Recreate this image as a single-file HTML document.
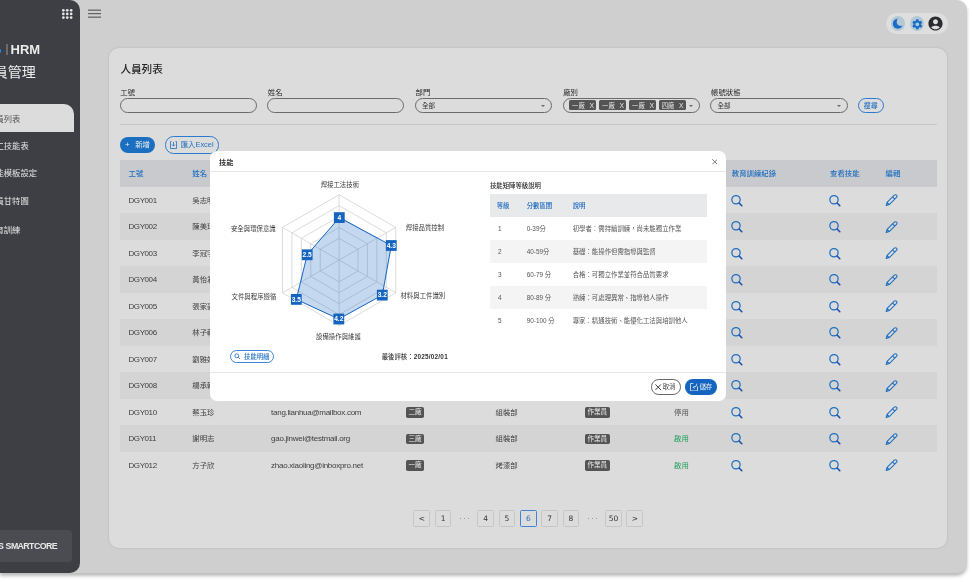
<!DOCTYPE html>
<html lang="zh-Hant">
<head>
<meta charset="utf-8">
<title>人員列表</title>
<style>
*{box-sizing:border-box;margin:0;padding:0}
html,body{width:972px;height:582px;overflow:hidden;background:#fff}
body{position:relative;font-family:"Liberation Sans","Noto Sans CJK TC",sans-serif;color:#333}
.abs{position:absolute}
.app{position:absolute;left:0;top:0;width:967px;height:572.6px;background:#cfcfcf;border-radius:0 10px 10px 0;box-shadow:0 2.5px 3.5px rgba(0,0,0,.27)}
.side{position:absolute;left:0;top:0;width:80px;height:573px;background:#3e3f44;border-radius:0 10px 10px 0;overflow:hidden}
.side .item{position:absolute;left:-12.8px;font-size:8.3px;line-height:10px;color:#e4e4e4;white-space:nowrap}
.card{position:absolute;left:109px;top:48px;width:838.3px;height:500px;background:#dcdcdc;border-radius:10px;box-shadow:0 0 2.5px rgba(0,0,0,.13)}
.lbl{position:absolute;top:88.2px;font-size:7.4px;line-height:9px;color:#262626;white-space:nowrap}
.inp{position:absolute;top:97.8px;height:15.2px;width:137.2px;border:1px solid #6a6a6a;border-radius:8px}
.inp .v{position:absolute;left:6px;top:3.3px;font-size:6.6px;line-height:8px;color:#333}
.arrow{position:absolute;right:6px;top:6px;width:0;height:0;border-left:2px solid transparent;border-right:2px solid transparent;border-top:2.2px solid #666}
.fchip{position:absolute;top:100.3px;width:27.5px;height:10.2px;background:#545454;color:#e6e6e6;font-size:6.3px;line-height:12px;padding-left:3.2px;border-radius:1.5px;white-space:nowrap}
.fchip b{position:absolute;left:20.5px;top:0;font-weight:normal;font-size:6.8px}
.tbl{position:absolute;left:120px;top:160.4px;width:816.6px}
.tr{position:absolute;left:0;width:816.6px;height:26.5px}
.tr.h{background:#c9cacd;height:26.3px}
.tr.alt{background:#d4d4d4}
.td{position:absolute;top:0.9px;line-height:26.5px;font-size:7.4px;color:#404040;white-space:nowrap}
.td.l{font-size:8px;letter-spacing:-0.27px}
.h .td{color:#1f6fc0;line-height:26.3px;font-weight:500}
.chip{display:inline-block;background:#545454;color:#eee;border-radius:1.8px;font-size:6.6px;line-height:10.2px;height:10.2px;padding:0 2.4px;vertical-align:middle;position:relative;top:-0.4px}
.ic svg{vertical-align:middle}
.pg{position:absolute;top:510.1px;width:16.8px;height:16.6px;border:1px solid #c6c6c6;border-radius:1.5px;font-family:"DejaVu Sans",sans-serif;font-size:7.5px;line-height:14.6px;padding-top:1.4px;text-align:center;color:#333}
.dots{position:absolute;top:517.6px;width:1.3px;height:1.3px;border-radius:50%;background:#8a8a8a}
.modal{position:absolute;left:210.2px;top:151px;width:515.7px;height:250px;background:#fff;border-radius:7px;overflow:hidden}
.mt{position:absolute;font-size:6.4px;line-height:8px;color:#444;white-space:nowrap}
</style>
</head>
<body>
<div class="app">
  <div class="side">
    <svg class="abs" style="left:62px;top:9px" width="11" height="10" viewBox="0 0 11 10"><g fill="#e6e6e6"><circle cx="1.35" cy="1.35" r="1.35"/><circle cx="5.25" cy="1.35" r="1.35"/><circle cx="9.15" cy="1.35" r="1.35"/><circle cx="1.35" cy="4.95" r="1.35"/><circle cx="5.25" cy="4.95" r="1.35"/><circle cx="9.15" cy="4.95" r="1.35"/><circle cx="1.35" cy="8.55" r="1.35"/><circle cx="5.25" cy="8.55" r="1.35"/><circle cx="9.15" cy="8.55" r="1.35"/></g></svg>
    <div class="abs" style="left:-1px;top:49.3px;width:2.4px;height:4.2px;background:#1e88e5;border-radius:1px"></div>
    <div class="abs" style="left:6.3px;top:44.2px;width:1.3px;height:10.6px;background:#6a6b70"></div>
    <div class="abs" style="left:10.6px;top:41.5px;font-size:13px;line-height:15px;font-weight:bold;color:#ececec">HRM</div>
    <div class="abs" style="left:-20.2px;top:64.2px;font-size:14px;line-height:17px;color:#ececec;white-space:nowrap">人員管理</div>
    <div class="abs" style="left:-10px;top:103.5px;width:84px;height:28.6px;background:#dcdcdc;border-radius:0 10px 0 0"></div>
    <div class="item" style="top:113.5px;color:#555">人員列表</div>
    <div class="item" style="top:140.8px">員工技能表</div>
    <div class="item" style="top:168px">技能模板設定</div>
    <div class="item" style="top:196px">人員甘特圖</div>
    <div class="item" style="top:224.5px">教育訓練</div>
    <div class="abs" style="left:-10px;top:530.1px;width:82.2px;height:32px;background:#4b4c51;border-radius:4px"></div>
    <div class="abs" style="left:-2.1px;top:540.6px;font-size:8.8px;line-height:10px;font-weight:bold;letter-spacing:-0.6px;word-spacing:0.6px;color:#e8e8e8;white-space:nowrap">S SMARTCORE</div>
  </div>
</div>
<div class="card"></div>

<svg class="abs" style="left:88px;top:9px" width="14" height="9" viewBox="0 0 14 9"><g fill="#555"><rect x="0" y="0.6" width="13" height="1.1"/><rect x="0" y="4.1" width="13" height="1.1"/><rect x="0" y="7.6" width="13" height="1.1"/></g></svg>
<div class="abs" style="left:885.8px;top:12.9px;width:62px;height:21.6px;background:#dedede;border-radius:11px"></div>
<div class="abs" style="left:890.8px;top:16.3px;width:14.5px;height:14.5px;background:#b3c9d6;border-radius:50%"></div>
<svg class="abs" style="left:890.8px;top:16.3px" width="14.5" height="14.5" viewBox="890.8 16.3 14.5 14.5"><defs><mask id="mm"><rect x="890" y="16" width="16" height="16" fill="#fff"/><circle cx="900.6" cy="22.1" r="4.1" fill="#000"/></mask></defs><circle cx="897.6" cy="24" r="5" fill="#1a6cc7" mask="url(#mm)"/></svg>
<div class="abs" style="left:909.9px;top:16.3px;width:14.3px;height:14.3px;background:#b3c9d6;border-radius:50%"></div>
<svg class="abs" style="left:910.7px;top:17.5px" width="12.6" height="12.6" viewBox="0 0 24 24"><path fill="#1a6cc7" d="M19.14 12.94c.04-.3.06-.61.06-.94 0-.32-.02-.64-.07-.94l2.03-1.58c.18-.14.23-.41.12-.61l-1.92-3.32c-.12-.22-.37-.29-.59-.22l-2.39.96c-.5-.38-1.03-.7-1.62-.94l-.36-2.54c-.04-.24-.24-.41-.48-.41h-3.84c-.24 0-.43.17-.47.41l-.36 2.54c-.59.24-1.13.57-1.62.94l-2.39-.96c-.22-.08-.47 0-.59.22L2.74 8.87c-.12.21-.08.47.12.61l2.03 1.58c-.05.3-.09.63-.09.94s.02.64.07.94l-2.03 1.58c-.18.14-.23.41-.12.61l1.92 3.32c.12.22.37.29.59.22l2.39-.96c.5.38 1.03.7 1.62.94l.36 2.54c.05.24.24.41.48.41h3.84c.24 0 .44-.17.47-.41l.36-2.54c.59-.24 1.13-.56 1.62-.94l2.39.96c.22.08.47 0 .59-.22l1.92-3.32c.12-.22.07-.47-.12-.61l-2.01-1.58zM12 15.6c-1.98 0-3.6-1.62-3.6-3.6s1.62-3.6 3.6-3.6 3.6 1.62 3.6 3.6-1.62 3.6-3.6 3.6z"/></svg>
<svg class="abs" style="left:927.2px;top:15.3px" width="17" height="17" viewBox="0 0 24 24"><path fill="#2a2b2f" d="M12 2C6.48 2 2 6.48 2 12s4.48 10 10 10 10-4.48 10-10S17.52 2 12 2zm0 4c1.93 0 3.5 1.57 3.5 3.5S13.930 13 12 13s-3.5-1.57-3.5-3.5S10.07 6 12 6zm0 14c-2.03 0-4.43-.82-6.14-2.88C7.55 15.8 9.68 15 12 15s4.45.8 6.14 2.12C16.43 19.18 14.03 20 12 20z"/></svg>


<div class="abs" style="left:120.4px;top:62.2px;font-size:10.6px;line-height:14px;font-weight:500;color:#222">人員列表</div>
<div class="lbl" style="left:120.3px">工號</div>
<div class="lbl" style="left:267.8px">姓名</div>
<div class="lbl" style="left:415.6px">部門</div>
<div class="lbl" style="left:563.2px">廠別</div>
<div class="lbl" style="left:711px">帳號狀態</div>
<div class="inp" style="left:119.5px"></div>
<div class="inp" style="left:267.2px"></div>
<div class="inp" style="left:415px"><span class="v">全部</span><i class="arrow"></i></div>
<div class="inp" style="left:562.7px"><i class="arrow"></i></div>
<div class="inp" style="left:710.4px"><span class="v">全部</span><i class="arrow"></i></div>
<div class="fchip" style="left:568.9px">一廠<b>X</b></div>
<div class="fchip" style="left:598.9px">一廠<b>X</b></div>
<div class="fchip" style="left:628.9px">一廠<b>X</b></div>
<div class="fchip" style="left:658.6px">四廠<b>X</b></div>
<div class="abs" style="left:858px;top:98px;width:25.6px;height:15px;border:1px solid #2a7bd0;border-radius:8px;font-size:7px;line-height:13px;text-align:center;color:#1f6fc0;font-weight:500">搜尋</div>
<div class="abs" style="left:119.5px;top:124px;width:817px;height:1px;background:#c6c6c6"></div>
<div class="abs" style="left:119.9px;top:136.8px;width:35.2px;height:16.4px;background:#1b6fc1;border-radius:8.2px;color:#f0f0f0;font-size:7.4px;line-height:16.4px;white-space:nowrap"><span style="position:absolute;left:5px;top:-0.3px;font-size:8px">+</span><span style="position:absolute;left:15.3px">新增</span></div>
<div class="abs" style="left:164.9px;top:136.4px;width:54px;height:17.2px;border:1px solid #2a7bd0;border-radius:8.6px;color:#1f6fc0;font-size:7.4px;line-height:15.2px;white-space:nowrap">
 <svg class="abs" style="left:4.6px;top:3.2px" width="7" height="8" viewBox="0 0 7 8"><path d="M1.5 .5h-1v7h6v-7h-1" fill="none" stroke="#1f6fc0" stroke-width=".8"/><path d="M3.5 1v4M2 3.6l1.5 1.5 1.5-1.5" fill="none" stroke="#1f6fc0" stroke-width=".8"/></svg>
 <span style="position:absolute;left:14.8px">匯入Excel</span></div>

<div class="tbl">
<div class="tr h" style="top:0"><span class="td" style="left:8.5px">工號</span><span class="td" style="left:72.3px">姓名</span><span class="td" style="left:151.1px">電子郵件</span><span class="td" style="left:286.0px">廠別</span><span class="td" style="left:375.5px">部門</span><span class="td" style="left:465.0px">職位</span><span class="td" style="left:554.0px">狀態</span><span class="td" style="left:611.8px">教育訓練紀錄</span><span class="td" style="left:710.0px">查看技能</span><span class="td" style="left:765.6px">編輯</span></div>
<div class="tr" style="top:26.6px"><span class="td l" style="left:8.5px;letter-spacing:-0.42px">DGY001</span><span class="td" style="left:72.3px">吳志明</span><span class="td l" style="left:151.1px">wu.zhiming@mailbox.com</span><span class="td" style="left:286.0px"><span class="chip">一廠</span></span><span class="td" style="left:375.5px">焊接部</span><span class="td" style="left:465.0px"><span class="chip">作業員</span></span><span class="td" style="left:554.0px;color:#22a05a">啟用</span><svg class="abs" width="14" height="14" viewBox="0 0 14 14" style="left:610.0px;top:5.8px"><circle cx="6" cy="6.75" r="4.15" fill="none" stroke="#1f6fc0" stroke-width="1.25"/><path d="M9.1 10l2.7 2.7" stroke="#1d4fae" stroke-width="1.6" stroke-linecap="round"/></svg><svg class="abs" width="14" height="14" viewBox="0 0 14 14" style="left:708.2px;top:5.8px"><circle cx="6" cy="6.75" r="4.15" fill="none" stroke="#1f6fc0" stroke-width="1.25"/><path d="M9.1 10l2.7 2.7" stroke="#1d4fae" stroke-width="1.6" stroke-linecap="round"/></svg><svg class="abs" width="14" height="14" viewBox="0 0 14 14" style="left:764.0px;top:6.3px"><path d="M2.2 12.5L3.08 9.42L10.29 2.21Q11.39 1.11 12.49 2.21Q13.59 3.31 12.49 4.41L5.28 11.62Z M8.52 3.98L10.72 6.18 M3.08 9.42L5.28 11.62" fill="none" stroke="#1f6fc0" stroke-width="1.05" stroke-linejoin="round"/><path d="M2.2 12.5L2.7 10.8L3.9 12z" fill="#1f6fc0"/></svg></div>
<div class="tr alt" style="top:53.1px"><span class="td l" style="left:8.5px;letter-spacing:-0.42px">DGY002</span><span class="td" style="left:72.3px">陳美玲</span><span class="td l" style="left:151.1px">chen.meiling@testmail.org</span><span class="td" style="left:286.0px"><span class="chip">一廠</span></span><span class="td" style="left:375.5px">組裝部</span><span class="td" style="left:465.0px"><span class="chip">作業員</span></span><span class="td" style="left:554.0px;color:#22a05a">啟用</span><svg class="abs" width="14" height="14" viewBox="0 0 14 14" style="left:610.0px;top:5.8px"><circle cx="6" cy="6.75" r="4.15" fill="none" stroke="#1f6fc0" stroke-width="1.25"/><path d="M9.1 10l2.7 2.7" stroke="#1d4fae" stroke-width="1.6" stroke-linecap="round"/></svg><svg class="abs" width="14" height="14" viewBox="0 0 14 14" style="left:708.2px;top:5.8px"><circle cx="6" cy="6.75" r="4.15" fill="none" stroke="#1f6fc0" stroke-width="1.25"/><path d="M9.1 10l2.7 2.7" stroke="#1d4fae" stroke-width="1.6" stroke-linecap="round"/></svg><svg class="abs" width="14" height="14" viewBox="0 0 14 14" style="left:764.0px;top:6.3px"><path d="M2.2 12.5L3.08 9.42L10.29 2.21Q11.39 1.11 12.49 2.21Q13.59 3.31 12.49 4.41L5.28 11.62Z M8.52 3.98L10.72 6.18 M3.08 9.42L5.28 11.62" fill="none" stroke="#1f6fc0" stroke-width="1.05" stroke-linejoin="round"/><path d="M2.2 12.5L2.7 10.8L3.9 12z" fill="#1f6fc0"/></svg></div>
<div class="tr" style="top:79.6px"><span class="td l" style="left:8.5px;letter-spacing:-0.42px">DGY003</span><span class="td" style="left:72.3px">李冠宇</span><span class="td l" style="left:151.1px">li.guanyu@inboxpro.net</span><span class="td" style="left:286.0px"><span class="chip">二廠</span></span><span class="td" style="left:375.5px">焊接部</span><span class="td" style="left:465.0px"><span class="chip">作業員</span></span><span class="td" style="left:554.0px;color:#22a05a">啟用</span><svg class="abs" width="14" height="14" viewBox="0 0 14 14" style="left:610.0px;top:5.8px"><circle cx="6" cy="6.75" r="4.15" fill="none" stroke="#1f6fc0" stroke-width="1.25"/><path d="M9.1 10l2.7 2.7" stroke="#1d4fae" stroke-width="1.6" stroke-linecap="round"/></svg><svg class="abs" width="14" height="14" viewBox="0 0 14 14" style="left:708.2px;top:5.8px"><circle cx="6" cy="6.75" r="4.15" fill="none" stroke="#1f6fc0" stroke-width="1.25"/><path d="M9.1 10l2.7 2.7" stroke="#1d4fae" stroke-width="1.6" stroke-linecap="round"/></svg><svg class="abs" width="14" height="14" viewBox="0 0 14 14" style="left:764.0px;top:6.3px"><path d="M2.2 12.5L3.08 9.42L10.29 2.21Q11.39 1.11 12.49 2.21Q13.59 3.31 12.49 4.41L5.28 11.62Z M8.52 3.98L10.72 6.18 M3.08 9.42L5.28 11.62" fill="none" stroke="#1f6fc0" stroke-width="1.05" stroke-linejoin="round"/><path d="M2.2 12.5L2.7 10.8L3.9 12z" fill="#1f6fc0"/></svg></div>
<div class="tr alt" style="top:106.1px"><span class="td l" style="left:8.5px;letter-spacing:-0.42px">DGY004</span><span class="td" style="left:72.3px">黃怡君</span><span class="td l" style="left:151.1px">huang.yijun@mailbox.com</span><span class="td" style="left:286.0px"><span class="chip">二廠</span></span><span class="td" style="left:375.5px">品管部</span><span class="td" style="left:465.0px"><span class="chip">作業員</span></span><span class="td" style="left:554.0px;color:#22a05a">啟用</span><svg class="abs" width="14" height="14" viewBox="0 0 14 14" style="left:610.0px;top:5.8px"><circle cx="6" cy="6.75" r="4.15" fill="none" stroke="#1f6fc0" stroke-width="1.25"/><path d="M9.1 10l2.7 2.7" stroke="#1d4fae" stroke-width="1.6" stroke-linecap="round"/></svg><svg class="abs" width="14" height="14" viewBox="0 0 14 14" style="left:708.2px;top:5.8px"><circle cx="6" cy="6.75" r="4.15" fill="none" stroke="#1f6fc0" stroke-width="1.25"/><path d="M9.1 10l2.7 2.7" stroke="#1d4fae" stroke-width="1.6" stroke-linecap="round"/></svg><svg class="abs" width="14" height="14" viewBox="0 0 14 14" style="left:764.0px;top:6.3px"><path d="M2.2 12.5L3.08 9.42L10.29 2.21Q11.39 1.11 12.49 2.21Q13.59 3.31 12.49 4.41L5.28 11.62Z M8.52 3.98L10.72 6.18 M3.08 9.42L5.28 11.62" fill="none" stroke="#1f6fc0" stroke-width="1.05" stroke-linejoin="round"/><path d="M2.2 12.5L2.7 10.8L3.9 12z" fill="#1f6fc0"/></svg></div>
<div class="tr" style="top:132.6px"><span class="td l" style="left:8.5px;letter-spacing:-0.42px">DGY005</span><span class="td" style="left:72.3px">張家豪</span><span class="td l" style="left:151.1px">zhang.jiahao@testmail.org</span><span class="td" style="left:286.0px"><span class="chip">三廠</span></span><span class="td" style="left:375.5px">組裝部</span><span class="td" style="left:465.0px"><span class="chip">作業員</span></span><span class="td" style="left:554.0px;color:#22a05a">啟用</span><svg class="abs" width="14" height="14" viewBox="0 0 14 14" style="left:610.0px;top:5.8px"><circle cx="6" cy="6.75" r="4.15" fill="none" stroke="#1f6fc0" stroke-width="1.25"/><path d="M9.1 10l2.7 2.7" stroke="#1d4fae" stroke-width="1.6" stroke-linecap="round"/></svg><svg class="abs" width="14" height="14" viewBox="0 0 14 14" style="left:708.2px;top:5.8px"><circle cx="6" cy="6.75" r="4.15" fill="none" stroke="#1f6fc0" stroke-width="1.25"/><path d="M9.1 10l2.7 2.7" stroke="#1d4fae" stroke-width="1.6" stroke-linecap="round"/></svg><svg class="abs" width="14" height="14" viewBox="0 0 14 14" style="left:764.0px;top:6.3px"><path d="M2.2 12.5L3.08 9.42L10.29 2.21Q11.39 1.11 12.49 2.21Q13.59 3.31 12.49 4.41L5.28 11.62Z M8.52 3.98L10.72 6.18 M3.08 9.42L5.28 11.62" fill="none" stroke="#1f6fc0" stroke-width="1.05" stroke-linejoin="round"/><path d="M2.2 12.5L2.7 10.8L3.9 12z" fill="#1f6fc0"/></svg></div>
<div class="tr alt" style="top:159.1px"><span class="td l" style="left:8.5px;letter-spacing:-0.42px">DGY006</span><span class="td" style="left:72.3px">林子軒</span><span class="td l" style="left:151.1px">lin.zixuan@inboxpro.net</span><span class="td" style="left:286.0px"><span class="chip">三廠</span></span><span class="td" style="left:375.5px">烤漆部</span><span class="td" style="left:465.0px"><span class="chip">作業員</span></span><span class="td" style="left:554.0px;color:#555">停用</span><svg class="abs" width="14" height="14" viewBox="0 0 14 14" style="left:610.0px;top:5.8px"><circle cx="6" cy="6.75" r="4.15" fill="none" stroke="#1f6fc0" stroke-width="1.25"/><path d="M9.1 10l2.7 2.7" stroke="#1d4fae" stroke-width="1.6" stroke-linecap="round"/></svg><svg class="abs" width="14" height="14" viewBox="0 0 14 14" style="left:708.2px;top:5.8px"><circle cx="6" cy="6.75" r="4.15" fill="none" stroke="#1f6fc0" stroke-width="1.25"/><path d="M9.1 10l2.7 2.7" stroke="#1d4fae" stroke-width="1.6" stroke-linecap="round"/></svg><svg class="abs" width="14" height="14" viewBox="0 0 14 14" style="left:764.0px;top:6.3px"><path d="M2.2 12.5L3.08 9.42L10.29 2.21Q11.39 1.11 12.49 2.21Q13.59 3.31 12.49 4.41L5.28 11.62Z M8.52 3.98L10.72 6.18 M3.08 9.42L5.28 11.62" fill="none" stroke="#1f6fc0" stroke-width="1.05" stroke-linejoin="round"/><path d="M2.2 12.5L2.7 10.8L3.9 12z" fill="#1f6fc0"/></svg></div>
<div class="tr" style="top:185.6px"><span class="td l" style="left:8.5px;letter-spacing:-0.42px">DGY007</span><span class="td" style="left:72.3px">劉雅婷</span><span class="td l" style="left:151.1px">liu.yating@mailbox.com</span><span class="td" style="left:286.0px"><span class="chip">四廠</span></span><span class="td" style="left:375.5px">焊接部</span><span class="td" style="left:465.0px"><span class="chip">作業員</span></span><span class="td" style="left:554.0px;color:#22a05a">啟用</span><svg class="abs" width="14" height="14" viewBox="0 0 14 14" style="left:610.0px;top:5.8px"><circle cx="6" cy="6.75" r="4.15" fill="none" stroke="#1f6fc0" stroke-width="1.25"/><path d="M9.1 10l2.7 2.7" stroke="#1d4fae" stroke-width="1.6" stroke-linecap="round"/></svg><svg class="abs" width="14" height="14" viewBox="0 0 14 14" style="left:708.2px;top:5.8px"><circle cx="6" cy="6.75" r="4.15" fill="none" stroke="#1f6fc0" stroke-width="1.25"/><path d="M9.1 10l2.7 2.7" stroke="#1d4fae" stroke-width="1.6" stroke-linecap="round"/></svg><svg class="abs" width="14" height="14" viewBox="0 0 14 14" style="left:764.0px;top:6.3px"><path d="M2.2 12.5L3.08 9.42L10.29 2.21Q11.39 1.11 12.49 2.21Q13.59 3.31 12.49 4.41L5.28 11.62Z M8.52 3.98L10.72 6.18 M3.08 9.42L5.28 11.62" fill="none" stroke="#1f6fc0" stroke-width="1.05" stroke-linejoin="round"/><path d="M2.2 12.5L2.7 10.8L3.9 12z" fill="#1f6fc0"/></svg></div>
<div class="tr alt" style="top:212.1px"><span class="td l" style="left:8.5px;letter-spacing:-0.42px">DGY008</span><span class="td" style="left:72.3px">楊承翰</span><span class="td l" style="left:151.1px">yang.chenghan@testmail.org</span><span class="td" style="left:286.0px"><span class="chip">四廠</span></span><span class="td" style="left:375.5px">組裝部</span><span class="td" style="left:465.0px"><span class="chip">作業員</span></span><span class="td" style="left:554.0px;color:#22a05a">啟用</span><svg class="abs" width="14" height="14" viewBox="0 0 14 14" style="left:610.0px;top:5.8px"><circle cx="6" cy="6.75" r="4.15" fill="none" stroke="#1f6fc0" stroke-width="1.25"/><path d="M9.1 10l2.7 2.7" stroke="#1d4fae" stroke-width="1.6" stroke-linecap="round"/></svg><svg class="abs" width="14" height="14" viewBox="0 0 14 14" style="left:708.2px;top:5.8px"><circle cx="6" cy="6.75" r="4.15" fill="none" stroke="#1f6fc0" stroke-width="1.25"/><path d="M9.1 10l2.7 2.7" stroke="#1d4fae" stroke-width="1.6" stroke-linecap="round"/></svg><svg class="abs" width="14" height="14" viewBox="0 0 14 14" style="left:764.0px;top:6.3px"><path d="M2.2 12.5L3.08 9.42L10.29 2.21Q11.39 1.11 12.49 2.21Q13.59 3.31 12.49 4.41L5.28 11.62Z M8.52 3.98L10.72 6.18 M3.08 9.42L5.28 11.62" fill="none" stroke="#1f6fc0" stroke-width="1.05" stroke-linejoin="round"/><path d="M2.2 12.5L2.7 10.8L3.9 12z" fill="#1f6fc0"/></svg></div>
<div class="tr" style="top:238.6px"><span class="td l" style="left:8.5px;letter-spacing:-0.42px">DGY010</span><span class="td" style="left:72.3px">蔡玉珍</span><span class="td l" style="left:151.1px">tang.lianhua@mailbox.com</span><span class="td" style="left:286.0px"><span class="chip">二廠</span></span><span class="td" style="left:375.5px">組裝部</span><span class="td" style="left:465.0px"><span class="chip">作業員</span></span><span class="td" style="left:554.0px;color:#555">停用</span><svg class="abs" width="14" height="14" viewBox="0 0 14 14" style="left:610.0px;top:5.8px"><circle cx="6" cy="6.75" r="4.15" fill="none" stroke="#1f6fc0" stroke-width="1.25"/><path d="M9.1 10l2.7 2.7" stroke="#1d4fae" stroke-width="1.6" stroke-linecap="round"/></svg><svg class="abs" width="14" height="14" viewBox="0 0 14 14" style="left:708.2px;top:5.8px"><circle cx="6" cy="6.75" r="4.15" fill="none" stroke="#1f6fc0" stroke-width="1.25"/><path d="M9.1 10l2.7 2.7" stroke="#1d4fae" stroke-width="1.6" stroke-linecap="round"/></svg><svg class="abs" width="14" height="14" viewBox="0 0 14 14" style="left:764.0px;top:6.3px"><path d="M2.2 12.5L3.08 9.42L10.29 2.21Q11.39 1.11 12.49 2.21Q13.59 3.31 12.49 4.41L5.28 11.62Z M8.52 3.98L10.72 6.18 M3.08 9.42L5.28 11.62" fill="none" stroke="#1f6fc0" stroke-width="1.05" stroke-linejoin="round"/><path d="M2.2 12.5L2.7 10.8L3.9 12z" fill="#1f6fc0"/></svg></div>
<div class="tr alt" style="top:265.1px"><span class="td l" style="left:8.5px;letter-spacing:-0.42px">DGY011</span><span class="td" style="left:72.3px">謝明志</span><span class="td l" style="left:151.1px">gao.jinwei@testmail.org</span><span class="td" style="left:286.0px"><span class="chip">三廠</span></span><span class="td" style="left:375.5px">組裝部</span><span class="td" style="left:465.0px"><span class="chip">作業員</span></span><span class="td" style="left:554.0px;color:#22a05a">啟用</span><svg class="abs" width="14" height="14" viewBox="0 0 14 14" style="left:610.0px;top:5.8px"><circle cx="6" cy="6.75" r="4.15" fill="none" stroke="#1f6fc0" stroke-width="1.25"/><path d="M9.1 10l2.7 2.7" stroke="#1d4fae" stroke-width="1.6" stroke-linecap="round"/></svg><svg class="abs" width="14" height="14" viewBox="0 0 14 14" style="left:708.2px;top:5.8px"><circle cx="6" cy="6.75" r="4.15" fill="none" stroke="#1f6fc0" stroke-width="1.25"/><path d="M9.1 10l2.7 2.7" stroke="#1d4fae" stroke-width="1.6" stroke-linecap="round"/></svg><svg class="abs" width="14" height="14" viewBox="0 0 14 14" style="left:764.0px;top:6.3px"><path d="M2.2 12.5L3.08 9.42L10.29 2.21Q11.39 1.11 12.49 2.21Q13.59 3.31 12.49 4.41L5.28 11.62Z M8.52 3.98L10.72 6.18 M3.08 9.42L5.28 11.62" fill="none" stroke="#1f6fc0" stroke-width="1.05" stroke-linejoin="round"/><path d="M2.2 12.5L2.7 10.8L3.9 12z" fill="#1f6fc0"/></svg></div>
<div class="tr" style="top:291.6px"><span class="td l" style="left:8.5px;letter-spacing:-0.42px">DGY012</span><span class="td" style="left:72.3px">方子欣</span><span class="td l" style="left:151.1px">zhao.xiaoling@inboxpro.net</span><span class="td" style="left:286.0px"><span class="chip">一廠</span></span><span class="td" style="left:375.5px">烤漆部</span><span class="td" style="left:465.0px"><span class="chip">作業員</span></span><span class="td" style="left:554.0px;color:#22a05a">啟用</span><svg class="abs" width="14" height="14" viewBox="0 0 14 14" style="left:610.0px;top:5.8px"><circle cx="6" cy="6.75" r="4.15" fill="none" stroke="#1f6fc0" stroke-width="1.25"/><path d="M9.1 10l2.7 2.7" stroke="#1d4fae" stroke-width="1.6" stroke-linecap="round"/></svg><svg class="abs" width="14" height="14" viewBox="0 0 14 14" style="left:708.2px;top:5.8px"><circle cx="6" cy="6.75" r="4.15" fill="none" stroke="#1f6fc0" stroke-width="1.25"/><path d="M9.1 10l2.7 2.7" stroke="#1d4fae" stroke-width="1.6" stroke-linecap="round"/></svg><svg class="abs" width="14" height="14" viewBox="0 0 14 14" style="left:764.0px;top:6.3px"><path d="M2.2 12.5L3.08 9.42L10.29 2.21Q11.39 1.11 12.49 2.21Q13.59 3.31 12.49 4.41L5.28 11.62Z M8.52 3.98L10.72 6.18 M3.08 9.42L5.28 11.62" fill="none" stroke="#1f6fc0" stroke-width="1.05" stroke-linejoin="round"/><path d="M2.2 12.5L2.7 10.8L3.9 12z" fill="#1f6fc0"/></svg></div>
</div>
<div class="pg" style="left:413.4px">&lt;</div>
<div class="pg" style="left:434.7px">1</div>
<div class="dots" style="left:460.0px"></div>
<div class="dots" style="left:463.9px"></div>
<div class="dots" style="left:467.8px"></div>
<div class="pg" style="left:477.3px">4</div>
<div class="pg" style="left:498.6px">5</div>
<div class="pg" style="left:519.9px;border-color:#3d86d4;color:#1f6fc0">6</div>
<div class="pg" style="left:541.2px">7</div>
<div class="pg" style="left:562.5px">8</div>
<div class="dots" style="left:587.8px"></div>
<div class="dots" style="left:591.7px"></div>
<div class="dots" style="left:595.6px"></div>
<div class="pg" style="left:605.1px">50</div>
<div class="pg" style="left:626.4px">&gt;</div>
<div class="modal">
<svg class="abs" style="left:0;top:0" width="516" height="250" viewBox="0 0 516 250">
<polygon points="129.10,87.30 147.98,98.20 147.98,120.00 129.10,130.90 110.22,120.00 110.22,98.20" fill="none" stroke="#cfcfcf" stroke-width="0.75"/>
<polygon points="129.10,76.40 157.42,92.75 157.42,125.45 129.10,141.80 100.78,125.45 100.78,92.75" fill="none" stroke="#cfcfcf" stroke-width="0.75"/>
<polygon points="129.10,65.50 166.86,87.30 166.86,130.90 129.10,152.70 91.34,130.90 91.34,87.30" fill="none" stroke="#cfcfcf" stroke-width="0.75"/>
<polygon points="129.10,54.60 176.30,81.85 176.30,136.35 129.10,163.60 81.90,136.35 81.90,81.85" fill="none" stroke="#cfcfcf" stroke-width="0.75"/>
<polygon points="129.10,43.70 185.74,76.40 185.74,141.80 129.10,174.50 72.46,141.80 72.46,76.40" fill="none" stroke="#cfcfcf" stroke-width="0.75"/>
<line x1="129.10" y1="109.10" x2="129.10" y2="43.70" stroke="#cfcfcf" stroke-width="0.75"/>
<line x1="129.10" y1="109.10" x2="185.74" y2="76.40" stroke="#cfcfcf" stroke-width="0.75"/>
<line x1="129.10" y1="109.10" x2="185.74" y2="141.80" stroke="#cfcfcf" stroke-width="0.75"/>
<line x1="129.10" y1="109.10" x2="129.10" y2="174.50" stroke="#cfcfcf" stroke-width="0.75"/>
<line x1="129.10" y1="109.10" x2="72.46" y2="141.80" stroke="#cfcfcf" stroke-width="0.75"/>
<line x1="129.10" y1="109.10" x2="72.46" y2="76.40" stroke="#cfcfcf" stroke-width="0.75"/>
<polygon points="129.30,66.60 181.30,94.50 172.30,144.10 128.80,168.00 86.30,148.40 97.20,103.80" fill="rgba(21,101,192,0.25)" stroke="#1565c0" stroke-width="1"/>
<rect x="123.90" y="61.20" width="10.8" height="10.8" fill="#1565c0"/>
<text x="129.30" y="68.95" text-anchor="middle" font-family="Liberation Sans" font-weight="bold" font-size="6.6" fill="#fff">4</text>
<rect x="175.90" y="89.10" width="10.8" height="10.8" fill="#1565c0"/>
<text x="181.30" y="96.85" text-anchor="middle" font-family="Liberation Sans" font-weight="bold" font-size="6.6" fill="#fff">4.3</text>
<rect x="166.90" y="138.70" width="10.8" height="10.8" fill="#1565c0"/>
<text x="172.30" y="146.45" text-anchor="middle" font-family="Liberation Sans" font-weight="bold" font-size="6.6" fill="#fff">3.2</text>
<rect x="123.40" y="162.60" width="10.8" height="10.8" fill="#1565c0"/>
<text x="128.80" y="170.35" text-anchor="middle" font-family="Liberation Sans" font-weight="bold" font-size="6.6" fill="#fff">4.2</text>
<rect x="80.90" y="143.00" width="10.8" height="10.8" fill="#1565c0"/>
<text x="86.30" y="150.75" text-anchor="middle" font-family="Liberation Sans" font-weight="bold" font-size="6.6" fill="#fff">3.5</text>
<rect x="91.80" y="98.40" width="10.8" height="10.8" fill="#1565c0"/>
<text x="97.20" y="106.15" text-anchor="middle" font-family="Liberation Sans" font-weight="bold" font-size="6.6" fill="#fff">2.5</text>
</svg><div class="mt" style="left:110.5px;top:30.1px;color:#3a3a3a">焊接工法技術</div><div class="mt" style="left:195.6px;top:73.3px;color:#3a3a3a">焊接品質控制</div><div class="mt" style="left:190.3px;top:141.4px;color:#3a3a3a">材料與工件識別</div><div class="mt" style="left:105.9px;top:181.6px;color:#3a3a3a">設備操作與維護</div><div class="mt" style="left:21.4px;top:142.0px;color:#3a3a3a">文件與程序遵循</div><div class="mt" style="left:20.8px;top:74.0px;color:#3a3a3a">安全與環保意識</div><div class="mt" style="left:279.7px;top:31.3px;font-weight:500;color:#2a2a2a">技能矩陣等級說明</div>
<div class="abs" style="left:279.7px;top:43.0px;width:216.7px;height:22.6px;background:#e8e9eb"></div>
<div class="mt" style="left:286.5px;top:43.0px;line-height:23.2px;color:#1a68bd;font-weight:500">等級</div>
<div class="mt" style="left:316.5px;top:43.0px;line-height:23.2px;color:#1a68bd;font-weight:500">分數區間</div>
<div class="mt" style="left:362.5px;top:43.0px;line-height:23.2px;color:#1a68bd;font-weight:500">說明</div>
<div class="mt" style="left:287.8px;top:65.6px;line-height:23px;color:#555">1</div>
<div class="mt" style="left:316.5px;top:65.6px;line-height:23px;color:#555">0-39分</div>
<div class="mt" style="left:362.5px;top:65.6px;line-height:23px;color:#555">初學者：需持續訓練，尚未能獨立作業</div>
<div class="abs" style="left:279.7px;top:88.6px;width:216.7px;height:23px;background:#f4f4f5"></div>
<div class="mt" style="left:287.8px;top:88.6px;line-height:23px;color:#555">2</div>
<div class="mt" style="left:316.5px;top:88.6px;line-height:23px;color:#555">40-59分</div>
<div class="mt" style="left:362.5px;top:88.6px;line-height:23px;color:#555">基礎：能操作但需指導與監督</div>
<div class="mt" style="left:287.8px;top:111.6px;line-height:23px;color:#555">3</div>
<div class="mt" style="left:316.5px;top:111.6px;line-height:23px;color:#555">60-79 分</div>
<div class="mt" style="left:362.5px;top:111.6px;line-height:23px;color:#555">合格：可獨立作業並符合品質要求</div>
<div class="abs" style="left:279.7px;top:134.6px;width:216.7px;height:23px;background:#f4f4f5"></div>
<div class="mt" style="left:287.8px;top:134.6px;line-height:23px;color:#555">4</div>
<div class="mt" style="left:316.5px;top:134.6px;line-height:23px;color:#555">80-89 分</div>
<div class="mt" style="left:362.5px;top:134.6px;line-height:23px;color:#555">熟練：可處理異常、指導他人操作</div>
<div class="mt" style="left:287.8px;top:157.6px;line-height:23px;color:#555">5</div>
<div class="mt" style="left:316.5px;top:157.6px;line-height:23px;color:#555">90-100 分</div>
<div class="mt" style="left:362.5px;top:157.6px;line-height:23px;color:#555">專家：精通技術、能優化工法與培訓他人</div>
<div class="mt" style="left:8.9px;top:6.7px;font-size:7.2px;line-height:10px;font-weight:bold;color:#333">技能</div>
<svg class="abs" style="left:501.6px;top:8.2px" width="5.6" height="5.6" viewBox="0 0 6 6"><path d="M.3.3l5.4 5.4M5.7.3L.3 5.7" stroke="#555" stroke-width=".85"/></svg>
<div class="abs" style="left:0;top:20.0px;width:516px;height:0.8px;background:#e6e6e6"></div>
<div class="abs" style="left:19.9px;top:198.9px;width:43.7px;height:13px;border:1px solid #3d86d4;border-radius:6.5px;color:#1f6fc0;font-size:6.3px;line-height:11px;white-space:nowrap">
 <svg class="abs" style="left:3.3px;top:2.4px" width="6.8" height="6.8" viewBox="0 0 24 24"><path fill="none" stroke="#1f6fc0" stroke-width="3" d="M10 3.2a6.8 6.8 0 1 0 0 13.6a6.8 6.8 0 1 0 0-13.6zM15 15l6.2 6.2"/></svg>
 <span style="position:absolute;left:13px;font-weight:500">技能明細</span></div>
<div class="mt" style="left:171.5px;top:201.8px;font-weight:500;color:#333">最後評核：<span style="letter-spacing:0.23px;font-weight:bold">2025/02/01</span></div>
<div class="abs" style="left:0;top:221.0px;width:516px;height:0.8px;background:#e6e6e6"></div>
<div class="abs" style="left:440.9px;top:228.1px;width:29.8px;height:15.6px;border:1px solid #666;border-radius:7.8px;color:#444;font-size:6.4px;line-height:13.6px;white-space:nowrap">
 <svg class="abs" style="left:3.4px;top:3.6px" width="6.4" height="6.4" viewBox="0 0 6 6"><path d="M.4.4l5.2 5.2M5.6.4L.4 5.6" stroke="#333" stroke-width=".9"/></svg>
 <span style="position:absolute;left:10.6px">取消</span></div>
<div class="abs" style="left:475.2px;top:228.1px;width:31.4px;height:15.6px;background:#1565c0;border-radius:7.8px;color:#f2f2f2;font-size:6.4px;line-height:15.6px;white-space:nowrap">
 <svg class="abs" style="left:4.4px;top:3.6px" width="8" height="8.4" viewBox="0 0 8 8.4"><path d="M3.4.5H.5v7.4h7V3.4" fill="none" stroke="#eee" stroke-width=".8"/><path d="M6.9.6Q6.9 4.4 3.2 4.4M4.5 3.1L3.2 4.4 4.5 5.7" fill="none" stroke="#eee" stroke-width=".8"/></svg>
 <span style="position:absolute;left:14px">儲存</span></div>

</div>
</body>
</html>
